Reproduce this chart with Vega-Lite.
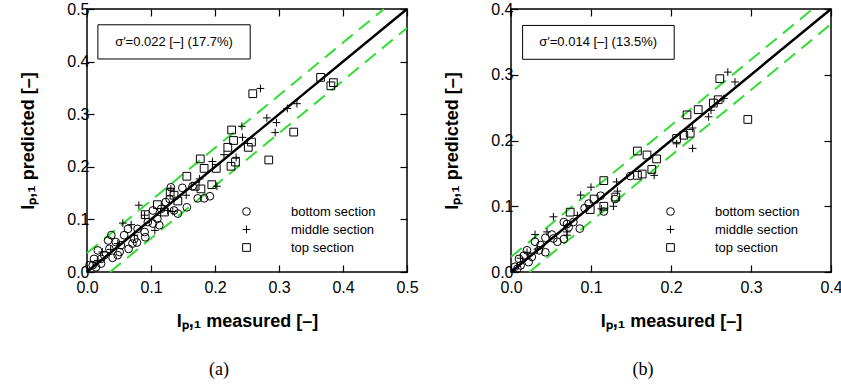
{
  "$schema": "https://vega.github.io/schema/vega-lite/v6.json",
  "background": "white",
  "padding": {"left": 19, "top": 0, "right": 0, "bottom": 0},
  "bounds": "flush",
  "spacing": 104,
  "config": {
    "view": {"stroke": "black", "strokeWidth": 1.5},
    "axis": {
      "grid": false, "domain": false,
      "labelFont": "Liberation Sans", "labelFontSize": 16, "labelColor": "black",
      "titleFont": "Liberation Sans", "titleFontSize": 18, "titleFontWeight": "bold", "titleColor": "black",
      "tickColor": "black", "tickSize": -7, "tickWidth": 1.2,
      "labelFlush": false, "labelOverlap": false
    },
    "legend": {
      "labelFont": "Liberation Sans", "labelFontSize": 13, "labelColor": "black"
    }
  },
  "datasets": {
    "pointsA": [
      {"x":0.192,"y":0.144,"section":"bottom section"},{"x":0.183,"y":0.140,"section":"bottom section"},{"x":0.173,"y":0.140,"section":"bottom section"},
      {"x":0.156,"y":0.123,"section":"bottom section"},{"x":0.142,"y":0.111,"section":"bottom section"},{"x":0.149,"y":0.160,"section":"bottom section"},
      {"x":0.165,"y":0.163,"section":"bottom section"},{"x":0.131,"y":0.161,"section":"bottom section"},{"x":0.123,"y":0.133,"section":"bottom section"},
      {"x":0.116,"y":0.120,"section":"bottom section"},{"x":0.113,"y":0.089,"section":"bottom section"},{"x":0.103,"y":0.117,"section":"bottom section"},
      {"x":0.095,"y":0.095,"section":"bottom section"},{"x":0.091,"y":0.066,"section":"bottom section"},{"x":0.078,"y":0.056,"section":"bottom section"},
      {"x":0.079,"y":0.082,"section":"bottom section"},{"x":0.064,"y":0.082,"section":"bottom section"},{"x":0.065,"y":0.044,"section":"bottom section"},
      {"x":0.051,"y":0.038,"section":"bottom section"},{"x":0.038,"y":0.070,"section":"bottom section"},{"x":0.033,"y":0.060,"section":"bottom section"},
      {"x":0.045,"y":0.057,"section":"bottom section"},{"x":0.017,"y":0.041,"section":"bottom section"},{"x":0.011,"y":0.025,"section":"bottom section"},
      {"x":0.004,"y":0.013,"section":"bottom section"},{"x":0.022,"y":0.016,"section":"bottom section"},{"x":0.040,"y":0.027,"section":"bottom section"},
      {"x":0.053,"y":0.051,"section":"bottom section"},{"x":0.074,"y":0.063,"section":"bottom section"},{"x":0.110,"y":0.101,"section":"bottom section"},
      {"x":0.129,"y":0.139,"section":"bottom section"},{"x":0.009,"y":0.013,"section":"bottom section"},{"x":0.027,"y":0.032,"section":"bottom section"},
      {"x":0.048,"y":0.032,"section":"bottom section"},{"x":0.035,"y":0.044,"section":"bottom section"},{"x":0.090,"y":0.076,"section":"bottom section"},
      {"x":0.103,"y":0.092,"section":"bottom section"},{"x":0.058,"y":0.070,"section":"bottom section"},{"x":0.014,"y":0.009,"section":"bottom section"},
      {"x":0.022,"y":0.025,"section":"bottom section"},{"x":0.071,"y":0.054,"section":"bottom section"},{"x":0.136,"y":0.117,"section":"bottom section"},
      {"x":0.271,"y":0.349,"section":"middle section"},{"x":0.328,"y":0.320,"section":"middle section"},{"x":0.313,"y":0.311,"section":"middle section"},
      {"x":0.281,"y":0.293,"section":"middle section"},{"x":0.296,"y":0.284,"section":"middle section"},{"x":0.294,"y":0.265,"section":"middle section"},
      {"x":0.242,"y":0.277,"section":"middle section"},{"x":0.243,"y":0.256,"section":"middle section"},{"x":0.214,"y":0.223,"section":"middle section"},
      {"x":0.233,"y":0.218,"section":"middle section"},{"x":0.196,"y":0.210,"section":"middle section"},{"x":0.203,"y":0.163,"section":"middle section"},
      {"x":0.176,"y":0.177,"section":"middle section"},{"x":0.155,"y":0.146,"section":"middle section"},{"x":0.131,"y":0.158,"section":"middle section"},
      {"x":0.081,"y":0.127,"section":"middle section"},{"x":0.056,"y":0.093,"section":"middle section"},{"x":0.069,"y":0.090,"section":"middle section"},
      {"x":0.106,"y":0.079,"section":"middle section"},{"x":0.090,"y":0.108,"section":"middle section"},{"x":0.126,"y":0.117,"section":"middle section"},
      {"x":0.134,"y":0.115,"section":"middle section"},{"x":0.024,"y":0.038,"section":"middle section"},{"x":0.037,"y":0.043,"section":"middle section"},
      {"x":0.048,"y":0.054,"section":"middle section"},{"x":0.074,"y":0.070,"section":"middle section"},{"x":0.017,"y":0.022,"section":"middle section"},
      {"x":0.259,"y":0.339,"section":"top section"},{"x":0.365,"y":0.370,"section":"top section"},{"x":0.381,"y":0.354,"section":"top section"},
      {"x":0.385,"y":0.360,"section":"top section"},{"x":0.323,"y":0.266,"section":"top section"},{"x":0.284,"y":0.213,"section":"top section"},
      {"x":0.226,"y":0.270,"section":"top section"},{"x":0.229,"y":0.250,"section":"top section"},{"x":0.257,"y":0.247,"section":"top section"},
      {"x":0.252,"y":0.237,"section":"top section"},{"x":0.220,"y":0.237,"section":"top section"},{"x":0.225,"y":0.201,"section":"top section"},
      {"x":0.232,"y":0.209,"section":"top section"},{"x":0.177,"y":0.215,"section":"top section"},{"x":0.183,"y":0.197,"section":"top section"},
      {"x":0.202,"y":0.197,"section":"top section"},{"x":0.195,"y":0.166,"section":"top section"},{"x":0.156,"y":0.182,"section":"top section"},
      {"x":0.178,"y":0.158,"section":"top section"},{"x":0.169,"y":0.163,"section":"top section"},{"x":0.130,"y":0.152,"section":"top section"},
      {"x":0.136,"y":0.146,"section":"top section"},{"x":0.142,"y":0.135,"section":"top section"},{"x":0.110,"y":0.128,"section":"top section"},
      {"x":0.091,"y":0.109,"section":"top section"},{"x":0.121,"y":0.114,"section":"top section"}
    ],
    "pointsB": [
      {"x":0.149,"y":0.146,"section":"bottom section"},{"x":0.130,"y":0.111,"section":"bottom section"},{"x":0.116,"y":0.092,"section":"bottom section"},
      {"x":0.112,"y":0.116,"section":"bottom section"},{"x":0.092,"y":0.097,"section":"bottom section"},{"x":0.086,"y":0.066,"section":"bottom section"},
      {"x":0.078,"y":0.076,"section":"bottom section"},{"x":0.072,"y":0.068,"section":"bottom section"},{"x":0.066,"y":0.076,"section":"bottom section"},
      {"x":0.066,"y":0.050,"section":"bottom section"},{"x":0.051,"y":0.057,"section":"bottom section"},{"x":0.053,"y":0.051,"section":"bottom section"},
      {"x":0.043,"y":0.052,"section":"bottom section"},{"x":0.030,"y":0.046,"section":"bottom section"},{"x":0.043,"y":0.030,"section":"bottom section"},
      {"x":0.035,"y":0.033,"section":"bottom section"},{"x":0.022,"y":0.015,"section":"bottom section"},{"x":0.016,"y":0.025,"section":"bottom section"},
      {"x":0.010,"y":0.020,"section":"bottom section"},{"x":0.005,"y":0.008,"section":"bottom section"},{"x":0.012,"y":0.010,"section":"bottom section"},
      {"x":0.020,"y":0.033,"section":"bottom section"},{"x":0.026,"y":0.023,"section":"bottom section"},{"x":0.058,"y":0.046,"section":"bottom section"},
      {"x":0.037,"y":0.041,"section":"bottom section"},{"x":0.097,"y":0.104,"section":"bottom section"},{"x":0.070,"y":0.073,"section":"bottom section"},
      {"x":0.008,"y":0.005,"section":"bottom section"},
      {"x":0.271,"y":0.304,"section":"middle section"},{"x":0.280,"y":0.289,"section":"middle section"},{"x":0.266,"y":0.264,"section":"middle section"},
      {"x":0.250,"y":0.246,"section":"middle section"},{"x":0.247,"y":0.236,"section":"middle section"},{"x":0.227,"y":0.219,"section":"middle section"},
      {"x":0.227,"y":0.188,"section":"middle section"},{"x":0.207,"y":0.195,"section":"middle section"},{"x":0.179,"y":0.147,"section":"middle section"},
      {"x":0.132,"y":0.137,"section":"middle section"},{"x":0.133,"y":0.123,"section":"middle section"},{"x":0.128,"y":0.100,"section":"middle section"},
      {"x":0.113,"y":0.096,"section":"middle section"},{"x":0.100,"y":0.129,"section":"middle section"},{"x":0.087,"y":0.117,"section":"middle section"},
      {"x":0.053,"y":0.084,"section":"middle section"},{"x":0.070,"y":0.061,"section":"middle section"},{"x":0.070,"y":0.056,"section":"middle section"},
      {"x":0.030,"y":0.057,"section":"middle section"},{"x":0.045,"y":0.061,"section":"middle section"},{"x":0.012,"y":0.021,"section":"middle section"},
      {"x":0.020,"y":0.030,"section":"middle section"},{"x":0.033,"y":0.035,"section":"middle section"},{"x":0.083,"y":0.086,"section":"middle section"},
      {"x":0.261,"y":0.294,"section":"top section"},{"x":0.296,"y":0.232,"section":"top section"},{"x":0.259,"y":0.262,"section":"top section"},
      {"x":0.253,"y":0.257,"section":"top section"},{"x":0.234,"y":0.247,"section":"top section"},{"x":0.220,"y":0.239,"section":"top section"},
      {"x":0.224,"y":0.211,"section":"top section"},{"x":0.216,"y":0.208,"section":"top section"},{"x":0.207,"y":0.203,"section":"top section"},
      {"x":0.158,"y":0.184,"section":"top section"},{"x":0.170,"y":0.178,"section":"top section"},{"x":0.182,"y":0.172,"section":"top section"},
      {"x":0.176,"y":0.156,"section":"top section"},{"x":0.164,"y":0.149,"section":"top section"},{"x":0.158,"y":0.147,"section":"top section"},
      {"x":0.116,"y":0.139,"section":"top section"},{"x":0.104,"y":0.111,"section":"top section"},{"x":0.099,"y":0.095,"section":"top section"},
      {"x":0.074,"y":0.091,"section":"top section"},{"x":0.131,"y":0.114,"section":"top section"},{"x":0.116,"y":0.100,"section":"top section"}
    ],
    "diagA": [{"x":0,"y":0},{"x":0.5,"y":0.5}],
    "bandA": [
      {"x":0,"y":0.036,"line":"upper"},{"x":0.464,"y":0.5,"line":"upper"},
      {"x":0.036,"y":0,"line":"lower"},{"x":0.5,"y":0.464,"line":"lower"}
    ],
    "diagB": [{"x":0,"y":0},{"x":0.4,"y":0.4}],
    "bandB": [
      {"x":0,"y":0.023,"line":"upper"},{"x":0.377,"y":0.4,"line":"upper"},
      {"x":0.023,"y":0,"line":"lower"},{"x":0.4,"y":0.377,"line":"lower"}
    ]
  },
  "hconcat": [
    {
      "width": 320, "height": 263,
      "title": {"text": "(a)", "orient": "bottom", "frame": "bounds", "anchor": "middle", "font": "Liberation Serif", "fontSize": 18, "fontWeight": "normal", "color": "black", "offset": 31},
      "resolve": {"axis": {"x": "independent", "y": "independent"}},
      "layer": [
        {
          "data": {"name": "diagA"},
          "mark": {"type": "line", "color": "black", "strokeWidth": 2.5},
          "encoding": {
            "x": {"field": "x", "type": "quantitative", "scale": {"domain": [0, 0.5], "nice": false},
                  "axis": {"orient": "top", "labels": false, "title": null, "values": [0, 0.1, 0.2, 0.3, 0.4, 0.5]}},
            "y": {"field": "y", "type": "quantitative", "scale": {"domain": [0, 0.5], "nice": false},
                  "axis": {"orient": "right", "labels": false, "title": null, "values": [0, 0.1, 0.2, 0.3, 0.4, 0.5]}}
          }
        },
        {
          "data": {"name": "bandA"},
          "mark": {"type": "line", "color": "#33dd33", "strokeWidth": 2, "strokeDash": [14, 8]},
          "encoding": {
            "x": {"field": "x", "type": "quantitative", "axis": null},
            "y": {"field": "y", "type": "quantitative", "axis": null},
            "detail": {"field": "line"}
          }
        },
        {
          "data": {"values": [{"label": "σ′=0.022 [–] (17.7%)"}]},
          "mark": {"type": "rect", "fill": "white", "stroke": "black", "strokeWidth": 1},
          "encoding": {
            "x": {"datum": 0.017, "type": "quantitative", "axis": null},
            "x2": {"datum": 0.255},
            "y": {"datum": 0.405, "type": "quantitative", "axis": null},
            "y2": {"datum": 0.47}
          }
        },
        {
          "data": {"values": [{"label": "σ′=0.022 [–] (17.7%)"}]},
          "mark": {"type": "text", "font": "Liberation Sans", "fontSize": 13, "color": "black", "align": "center", "baseline": "middle"},
          "encoding": {
            "x": {"datum": 0.136, "type": "quantitative", "axis": null},
            "y": {"datum": 0.437, "type": "quantitative", "axis": null},
            "text": {"field": "label"}
          }
        },
        {
          "data": {"name": "pointsA"},
          "mark": {"type": "point", "filled": false, "stroke": "black", "strokeWidth": 1, "size": 60, "opacity": 1},
          "encoding": {
            "x": {"field": "x", "type": "quantitative",
                  "axis": {"orient": "bottom", "title": "Iₚ,₁ measured [–]", "values": [0, 0.1, 0.2, 0.3, 0.4, 0.5], "format": ".1f", "labelPadding": 14, "titlePadding": 17}},
            "y": {"field": "y", "type": "quantitative",
                  "axis": {"orient": "left", "title": "Iₚ,₁ predicted [–]", "values": [0, 0.1, 0.2, 0.3, 0.4, 0.5], "format": ".1f", "labelPadding": 5, "titlePadding": 29}},
            "shape": {"field": "section", "type": "nominal",
                      "scale": {"domain": ["bottom section", "middle section", "top section"], "range": ["circle", "M-1,0H1M0,-1V1", "square"]},
                      "legend": {"orient": "none", "legendX": 153, "legendY": 196, "title": null, "padding": 0, "labelOffset": 38, "rowPadding": 4,
                                 "symbolStrokeColor": "black", "symbolFillColor": "transparent", "symbolSize": 60, "symbolStrokeWidth": 1}}
          }
        }
      ]
    },
    {
      "width": 320, "height": 263,
      "title": {"text": "(b)", "orient": "bottom", "frame": "bounds", "anchor": "middle", "font": "Liberation Serif", "fontSize": 18, "fontWeight": "normal", "color": "black", "offset": 31},
      "resolve": {"axis": {"x": "independent", "y": "independent"}},
      "layer": [
        {
          "data": {"name": "diagB"},
          "mark": {"type": "line", "color": "black", "strokeWidth": 2.5},
          "encoding": {
            "x": {"field": "x", "type": "quantitative", "scale": {"domain": [0, 0.4], "nice": false},
                  "axis": {"orient": "top", "labels": false, "title": null, "values": [0, 0.1, 0.2, 0.3, 0.4]}},
            "y": {"field": "y", "type": "quantitative", "scale": {"domain": [0, 0.4], "nice": false},
                  "axis": {"orient": "right", "labels": false, "title": null, "values": [0, 0.1, 0.2, 0.3, 0.4]}}
          }
        },
        {
          "data": {"name": "bandB"},
          "mark": {"type": "line", "color": "#33dd33", "strokeWidth": 2, "strokeDash": [14, 8]},
          "encoding": {
            "x": {"field": "x", "type": "quantitative", "axis": null},
            "y": {"field": "y", "type": "quantitative", "axis": null},
            "detail": {"field": "line"}
          }
        },
        {
          "data": {"values": [{"label": "σ′=0.014 [–] (13.5%)"}]},
          "mark": {"type": "rect", "fill": "white", "stroke": "black", "strokeWidth": 1},
          "encoding": {
            "x": {"datum": 0.0145, "type": "quantitative", "axis": null},
            "x2": {"datum": 0.204},
            "y": {"datum": 0.3235, "type": "quantitative", "axis": null},
            "y2": {"datum": 0.375}
          }
        },
        {
          "data": {"values": [{"label": "σ′=0.014 [–] (13.5%)"}]},
          "mark": {"type": "text", "font": "Liberation Sans", "fontSize": 13, "color": "black", "align": "center", "baseline": "middle"},
          "encoding": {
            "x": {"datum": 0.109, "type": "quantitative", "axis": null},
            "y": {"datum": 0.35, "type": "quantitative", "axis": null},
            "text": {"field": "label"}
          }
        },
        {
          "data": {"name": "pointsB"},
          "mark": {"type": "point", "filled": false, "stroke": "black", "strokeWidth": 1, "size": 60, "opacity": 1},
          "encoding": {
            "x": {"field": "x", "type": "quantitative",
                  "axis": {"orient": "bottom", "title": "Iₚ,₁ measured [–]", "values": [0, 0.1, 0.2, 0.3, 0.4], "format": ".1f", "labelPadding": 14, "titlePadding": 17}},
            "y": {"field": "y", "type": "quantitative",
                  "axis": {"orient": "left", "title": "Iₚ,₁ predicted [–]", "values": [0, 0.1, 0.2, 0.3, 0.4], "format": ".1f", "labelPadding": 5, "titlePadding": 29}},
            "shape": {"field": "section", "type": "nominal",
                      "scale": {"domain": ["bottom section", "middle section", "top section"], "range": ["circle", "M-1,0H1M0,-1V1", "square"]},
                      "legend": {"orient": "none", "legendX": 153, "legendY": 196, "title": null, "padding": 0, "labelOffset": 38, "rowPadding": 4,
                                 "symbolStrokeColor": "black", "symbolFillColor": "transparent", "symbolSize": 60, "symbolStrokeWidth": 1}}
          }
        }
      ]
    }
  ],
  "resolve": {"scale": {"shape": "independent"}, "legend": {"shape": "independent"}}
}
